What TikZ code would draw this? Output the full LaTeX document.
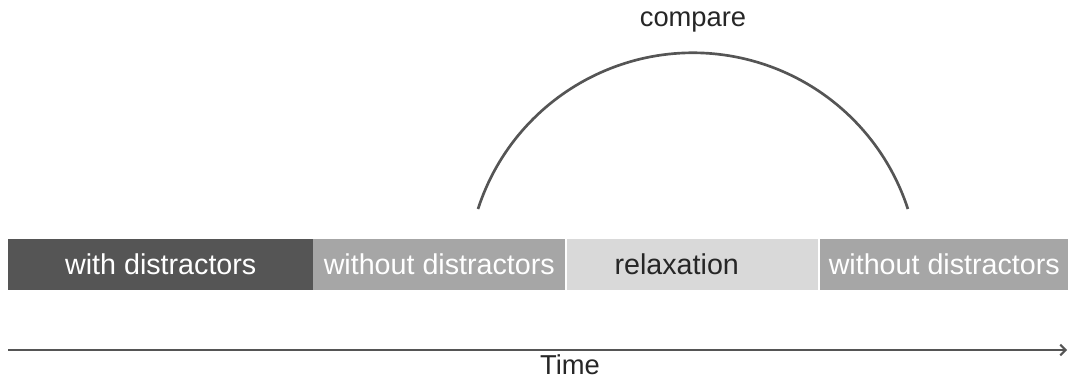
\documentclass[tikz,border=0pt]{standalone}
\usepackage{fontspec}
\setmainfont{Liberation Sans}
\usetikzlibrary{arrows.meta}
\definecolor{darkbox}{HTML}{555555}
\definecolor{midbox}{HTML}{A6A6A6}
\definecolor{lightbox}{HTML}{D9D9D9}
\definecolor{linegray}{HTML}{555555}
\tikzset{
	phase/.style = {rectangle, anchor = west, minimum height = 38.25pt, inner sep = 0pt, font = \fontsize{21.5}{24}\selectfont, text = white},
	label/.style = {font = \fontsize{20.5}{24}\selectfont, text = black!85, inner sep = 0pt}
}
\begin{document}
\begin{tikzpicture} [x = 0.75pt, y = -0.75pt]
	\useasboundingbox (0,0) rectangle (1068,379);
	% phases
	\node [phase, fill = darkbox, minimum width = 228.75pt] (with) at (8,264.5) {with distractors};
	\node [phase, fill = midbox, minimum width = 189pt] (without1) at (313,264.5) {without distractors};
	\node [phase, fill = lightbox, minimum width = 188.25pt, text = black!85] (relax) at (567,264.5) {\hspace*{-24pt}relaxation};
	\node [phase, fill = midbox, minimum width = 186pt] (without2) at (820,264.5) {without distractors};
	% compare arc
	\coordinate (a1) at (478,209);
	\coordinate (a2) at (908,209);
	\draw [linegray, line width = 2pt] (a1) arc (198:342:226);
	\node [label] (compare) at (693,22) {compare};
	% time axis
	\coordinate (t0) at (8,350);
	\coordinate (t1) at (1067,350);
	\draw [linegray, line width = 1.5pt, -{Straight Barb[length=4pt]}] (t0) -- (t1);
	\node [label] (time) at (570,365) {Time};
\end{tikzpicture}
\end{document}
